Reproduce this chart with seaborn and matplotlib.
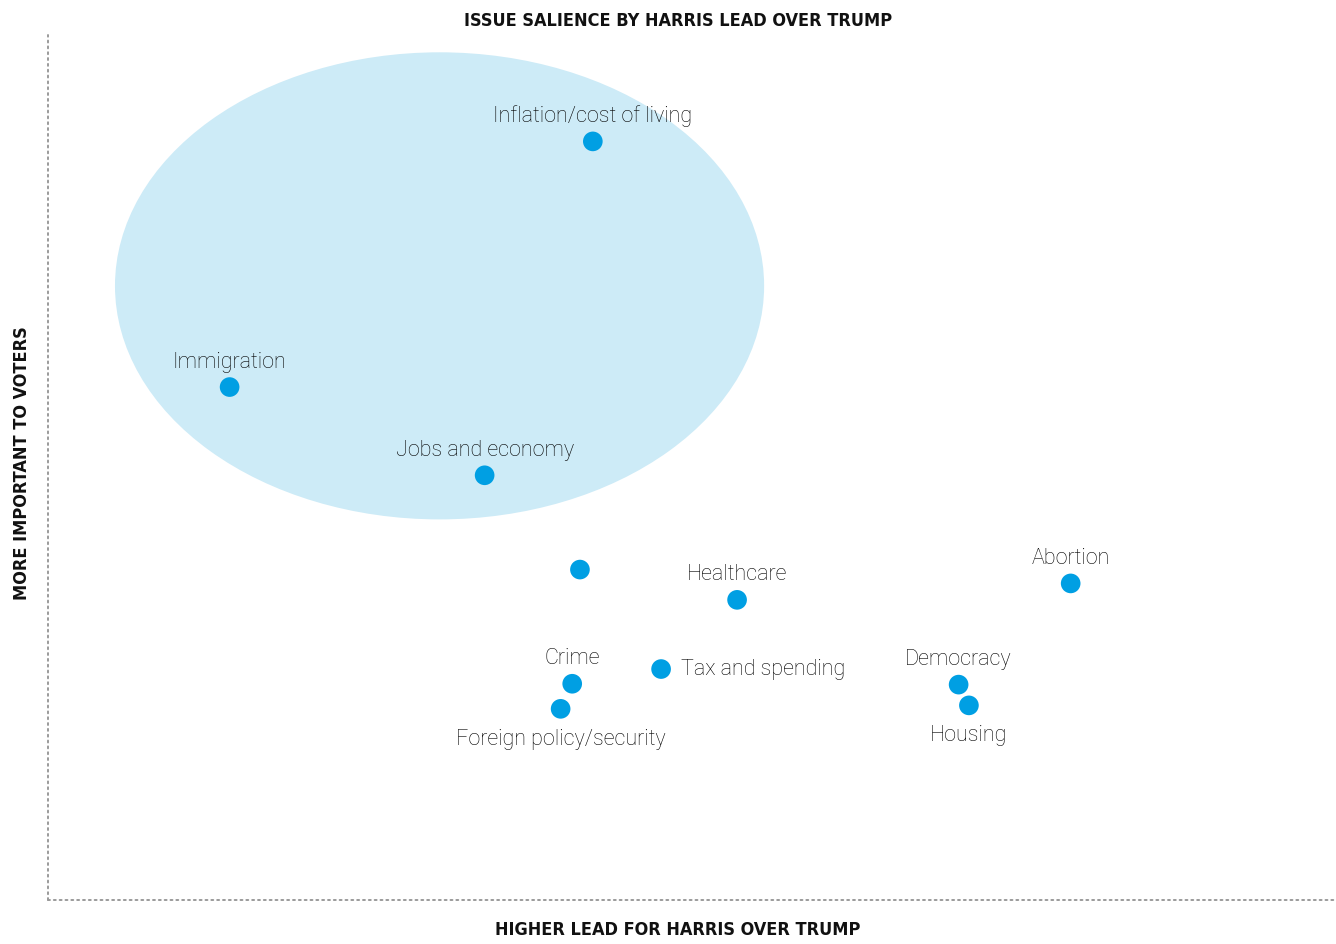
import matplotlib
matplotlib.use("Agg")
import matplotlib.pyplot as plt
from matplotlib.patches import Ellipse
import seaborn as sns
import pandas as pd

# Issues, positioned by Harris lead (x) and salience to voters (y)
issues = ["Inflation/cost of living", "Immigration", "Jobs and economy", "",
          "Healthcare", "Abortion", "Crime", "Tax and spending",
          "Democracy", "Housing", "Foreign policy/security"]
harris_lead = [42.3, 14.1, 33.9, 41.3, 53.5, 79.4, 40.7, 47.6, 70.7, 71.5, 39.8]
importance = [87.7, 59.3, 49.1, 38.2, 34.7, 36.6, 25.0, 26.7, 24.9, 22.5, 22.1]
# where each label sits relative to its dot
label_side = ["above", "above", "above", "none", "above", "above", "above",
              "right", "above", "below", "below"]

# Highlighted cluster of top-priority issues
cluster_center = (30.4, 71.0)
cluster_width = 50.4
cluster_height = 54.0

df = pd.DataFrame({"issue": issues, "lead": harris_lead, "importance": importance})

sns.set_style("white")
plt.rcParams["font.family"] = ["Roboto", "DejaVu Sans"]

DOT = "#009FE3"
FILL = "#CDEBF7"
TEXT = "#000000"
HEAD = ["DejaVu Sans"]

fig, ax = plt.subplots(figsize=(13.36, 9.44), dpi=100)
fig.subplots_adjust(left=48 / 1336, right=1.0, bottom=44 / 944, top=909 / 944)

ax.add_patch(Ellipse(cluster_center, cluster_width, cluster_height,
                     facecolor=FILL, edgecolor="none", zorder=0))

sns.scatterplot(data=df, x="lead", y="importance", ax=ax, s=200,
                color=DOT, edgecolor="none", zorder=3, legend=False)

for name, x, y, side in zip(issues, harris_lead, importance, label_side):
    kw = dict(textcoords="offset points", fontsize=15.5, fontweight="light", color=TEXT)
    if side == "above":
        ax.annotate(name, (x, y), xytext=(0, 18), ha="center", va="center", **kw)
    elif side == "below":
        ax.annotate(name, (x, y), xytext=(0, -22), ha="center", va="center", **kw)
    elif side == "right":
        ax.annotate(name, (x, y), xytext=(14, 0), ha="left", va="center", **kw)

ax.set_xlim(0, 100)
ax.set_ylim(0, 100)
ax.set_xticks([])
ax.set_yticks([])
ax.set_xlabel("")
ax.set_ylabel("")

for side in ("top", "right"):
    ax.spines[side].set_visible(False)
for side in ("left", "bottom"):
    sp = ax.spines[side]
    sp.set_linestyle((0, (1, 2)))
    sp.set_linewidth(1.4)
    sp.set_color("#9a9a9a")
    sp.set_capstyle("round")

head_kw = dict(ha="center", va="center", fontsize=13, fontweight="bold",
               fontstretch="condensed", family=HEAD, color="#111111")
fig.text(678 / 1336, 1 - 21 / 944, "ISSUE SALIENCE BY HARRIS LEAD OVER TRUMP", **head_kw)
fig.text(678 / 1336, 1 - 930 / 944, "HIGHER LEAD FOR HARRIS OVER TRUMP", **head_kw)
fig.text(22 / 1336, 1 - 463 / 944, "MORE IMPORTANT TO VOTERS", rotation=90, **head_kw)

fig.savefig("out.png", dpi=100, facecolor="white")
